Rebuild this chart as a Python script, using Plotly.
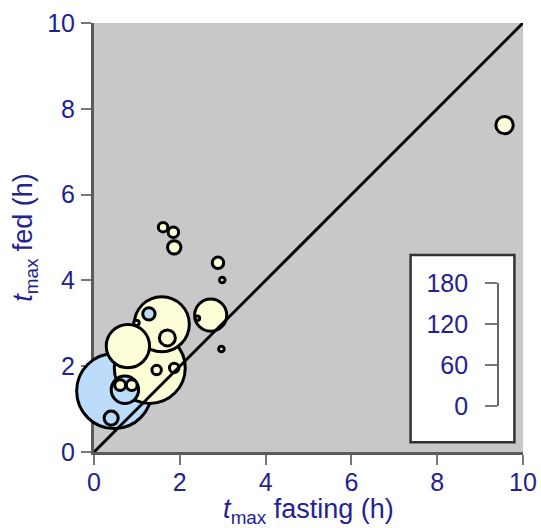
import plotly.graph_objects as go

# ---- data ----
tmax_fasting = [0.47, 1.30, 1.58, 0.79, 2.72, 0.72, 1.71, 0.40, 1.28, 1.87, 1.61,
                1.85, 2.89, 2.99, 2.97, 2.41, 0.99, 1.46, 1.87, 0.61, 0.88, 9.57]
tmax_fed = [1.42, 1.96, 2.98, 2.47, 3.19, 1.45, 2.66, 0.79, 3.22, 4.77, 5.24,
            5.12, 4.41, 4.01, 2.40, 3.12, 3.01, 1.91, 1.96, 1.56, 1.56, 7.62]
n_value = [180, 161, 97, 60, 33, 24, 8.2, 6.3, 4.9, 5.8, 2.85,
           3.5, 4.2, 0.96, 0.96, 0.64, 0.96, 2.85, 2.85, 3.75, 3.75, 9.7]
group = ["blue", "cream", "cream", "cream", "cream", "blue", "cream", "blue", "blue", "cream", "cream",
         "cream", "cream", "cream", "cream", "cream", "cream", "cream", "cream", "cream", "cream", "cream"]

axis_ticks = [0, 2, 4, 6, 8, 10]
scale_ticks = [0, 60, 120, 180]
identity = [0, 10]

# ---- styles ----
FILL = {"blue": "#bcdcfb", "cream": "#fdfdd8"}
NAVY = "#23238f"
FONT = "Liberation Sans, Arial, sans-serif"
R_MAX = 37.5

order = sorted(range(len(n_value)), key=lambda i: -n_value[i])
xs = [tmax_fasting[i] for i in order]
ys = [tmax_fed[i] for i in order]
ns = [n_value[i] for i in order]
cs = [FILL[group[i]] for i in order]

fig = go.Figure()
fig.add_trace(go.Scatter(
    x=xs, y=ys, mode="markers", cliponaxis=False, hoverinfo="skip",
    marker=dict(size=ns, sizemode="area", sizeref=max(n_value) / 2 / R_MAX ** 2,
                color=cs, opacity=1, line=dict(color="black", width=3)),
    showlegend=False))
fig.add_trace(go.Scatter(x=identity, y=identity, mode="lines",
                         line=dict(color="black", width=3), hoverinfo="skip", showlegend=False))
fig.add_trace(go.Scatter(x=[None], y=[None], xaxis="x2", yaxis="y2", mode="markers",
                         hoverinfo="skip", showlegend=False))

fig.add_shape(type="rect", xref="x", yref="y", x0=7.38, x1=9.80, y0=0.23, y1=4.59,
              fillcolor="white", line=dict(color="#333333", width=2.5), layer="below")

axis_common = dict(
    range=[0, 10], tickvals=axis_ticks, ticks="outside", ticklen=10, tickwidth=2,
    tickcolor="#777777", showline=True, linecolor="#5a5a5a", linewidth=3,
    showgrid=False, zeroline=False, layer="below traces", automargin=False,
    tickfont=dict(family=FONT, size=25, color=NAVY),
)

fig.update_layout(
    width=541, height=528, autosize=False,
    margin=dict(l=94, r=18, t=23, b=76),
    paper_bgcolor="white", plot_bgcolor="#c8c8c8",
    font=dict(family=FONT, color=NAVY),
    xaxis=dict(**axis_common, ticklabelstandoff=-4,
               title=dict(text="<i>t</i><sub>max</sub> fasting (h)",
                          font=dict(family=FONT, size=27, color=NAVY), standoff=10)),
    yaxis=dict(**axis_common, ticklabelstandoff=1,
               title=dict(text="<i>t</i><sub>max</sub> fed (h)",
                          font=dict(family=FONT, size=27, color=NAVY), standoff=7)),
    xaxis2=dict(domain=[0.9415, 0.942], range=[0, 1], visible=False, anchor="y2",
                automargin=False),
    yaxis2=dict(range=[0, 180], tickvals=scale_ticks, domain=[0.107, 0.394],
                anchor="free", position=0.942, side="left", automargin=False,
                ticks="outside", ticklen=12, tickwidth=2, tickcolor="#777777",
                showline=True, linecolor="#666666", linewidth=2,
                showgrid=False, zeroline=False, ticklabelstandoff=12,
                tickfont=dict(family=FONT, size=25, color=NAVY)),
)

post = """
document.documentElement.style.margin='0';
document.body.style.margin='0';
document.body.style.padding='0';
document.body.style.overflow='hidden';
var gd=document.getElementById('{plot_id}');
gd.style.width='541px'; gd.style.height='528px';
Plotly.relayout(gd,{width:541,height:528});
"""
fig.write_html("out.html", config={"responsive": False, "displayModeBar": False}, post_script=post)
